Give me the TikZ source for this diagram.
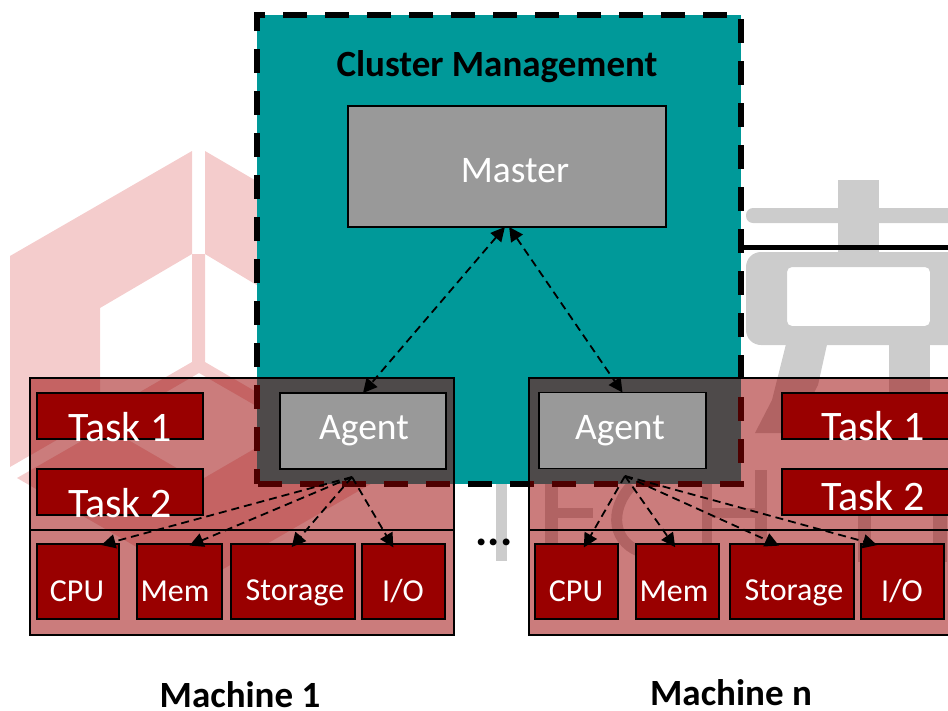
\documentclass[tikz,border=0pt]{standalone}
\usepackage{fontspec}
\setmainfont{Carlito}
\usetikzlibrary{arrows.meta}
\definecolor{clusterteal}{HTML}{009999}
\definecolor{boxred}{HTML}{990000}
\definecolor{boxgray}{HTML}{999999}
\definecolor{logopink}{HTML}{F4CCCC}
\definecolor{logogray}{HTML}{CCCCCC}
\begin{document}
\begin{tikzpicture}[x=1pt,y=-1pt,
  every node/.style={outer sep=0,inner sep=0},
  cluster/.style={draw,fill=clusterteal,line width=6pt,dash pattern=on 24pt off 18pt,dash phase=41pt},
  machine/.style={draw,line width=1.5pt,fill=boxred,fill opacity=.515},
  redbox/.style={draw,line width=1.5pt,fill=boxred},
  graybox/.style={draw,line width=1.5pt,fill=boxgray},
  bigtext/.style={text=white,font=\fontsize{42}{46}\selectfont},
  midtext/.style={text=white,font=\fontsize{37.5}{41}\selectfont},
  smalltext/.style={text=white,font=\fontsize{32}{36}\selectfont},
  boldtext/.style={font=\bfseries\fontsize{37}{41}\selectfont},
  link/.style={{Triangle[length=14pt,width=14pt]}-{Triangle[length=14pt,width=14pt]},line width=1.8pt,dash pattern=on 8pt off 5pt},
  uselink/.style={-{Triangle[length=14pt,width=14pt]},line width=1.8pt,dash pattern=on 8pt off 5pt,shorten >=-4pt}]
  \useasboundingbox (0,0) rectangle (948,710);
  \fill [logopink] (10,256) -- (192,151) -- (192,254) -- (100,308) -- (100,415) -- (10,467) -- cycle;
  \fill [logopink] (205,151) -- (265,186) -- (265,290) -- (205,254) -- cycle;
  \fill [logopink] (192,254) -- (205,254) -- (205,362) -- (265,397) -- (265,411) -- (199,373) -- (106,427) -- (100,415) -- (192,362) -- cycle;
  \fill [logopink] (17,478) -- (106,427) -- (199,481) -- (292,427) -- (381,478) -- (199,583) -- cycle;
  \fill [logogray,rounded corners=7pt] (746,208) rectangle (960,223);
  \fill [logogray] (838,180) rectangle (879,260);
  \fill [logogray,rounded corners=15pt,even odd rule] (746,252) rectangle (980,345) [rounded corners=5pt] (787,267) rectangle (930,326);
  \fill [logogray] (787,340) -- (828,340) -- (818,385) -- (800,420) -- (782,433) -- (755,433) -- (772,400) -- cycle;
  \fill [logogray] (889,340) rectangle (930,430);
  \fill [logogray] (496,470) rectangle (507,561);
  \fill [logogray] (545,470) rectangle (558,562);
  \fill [logogray] (558,508) rectangle (593,518);
  \draw [logogray,line width=11pt] (632,485) .. controls (608,510) and (612,545) .. (645,553);
  \fill [logogray] (702,470) rectangle (712,562);
  \fill [logogray] (755,470) rectangle (767,562);
  \fill [logogray] (712,508) rectangle (755,518);
  \fill [logogray] (858,500) rectangle (871,562);
  \fill [logogray] (933,500) rectangle (947,562);
  \node [cluster,minimum width=484pt,minimum height=469pt] (cluster) at (499,249.5) {};
  \node [boldtext] (clustertext) at (497,67) {Cluster Management};
  \node [graybox,minimum width=318pt,minimum height=121pt] (master) at (507,166.5) {};
  \node [midtext] (mastertext) at (515,171) {Master};
  \coordinate (barstart) at (741,247);
  \coordinate (barend) at (948,247);
  \draw [line width=5pt] (barstart) -- (barend);
  \node [machine,minimum width=424pt,minimum height=257pt] (machine1) at (242,506.5) {};
  \node [machine,minimum width=431pt,minimum height=257pt] (machine2) at (744.5,506.5) {};
  \coordinate (rule1a) at (30,530);
  \coordinate (rule1b) at (454,530);
  \coordinate (rule2a) at (529,530);
  \coordinate (rule2b) at (948,530);
  \draw [line width=1.5pt] (rule1a) -- (rule1b);
  \draw [line width=1.5pt] (rule2a) -- (rule2b);
  \node [graybox,minimum width=166pt,minimum height=76pt] (agent1) at (363,431) {};
  \node [graybox,minimum width=167pt,minimum height=76pt] (agent2) at (622.5,430.5) {};
  \node [midtext] (agenttext1) at (364,431) {Agent};
  \node [midtext] (agenttext2) at (620,431) {Agent};
  \node [redbox,minimum width=166pt,minimum height=46pt] (task1a) at (120,416) {};
  \node [redbox,minimum width=166pt,minimum height=46pt] (task2a) at (120,492) {};
  \node [redbox,minimum width=180pt,minimum height=46pt] (task1b) at (872,416) {};
  \node [redbox,minimum width=180pt,minimum height=46pt] (task2b) at (872,492) {};
  \node [bigtext] (tasktext1a) at (120,427) {Task 1};
  \node [bigtext] (tasktext2a) at (120,503) {Task 2};
  \node [bigtext] (tasktext1b) at (873,426) {Task 1};
  \node [bigtext] (tasktext2b) at (873,496) {Task 2};
  \node [redbox,minimum width=82pt,minimum height=75pt] (cpu1) at (78,581.5) {};
  \node [redbox,minimum width=85pt,minimum height=75pt] (mem1) at (179.5,581.5) {};
  \node [redbox,minimum width=124pt,minimum height=75pt] (storage1) at (293,581.5) {};
  \node [redbox,minimum width=83pt,minimum height=75pt] (io1) at (403.5,581.5) {};
  \node [redbox,minimum width=83pt,minimum height=75pt] (cpu2) at (576.5,581.5) {};
  \node [redbox,minimum width=83pt,minimum height=75pt] (mem2) at (677.5,581.5) {};
  \node [redbox,minimum width=124pt,minimum height=75pt] (storage2) at (792,581.5) {};
  \node [redbox,minimum width=83pt,minimum height=75pt] (io2) at (902.5,581.5) {};
  \node [smalltext] (cputext1) at (77,591) {CPU};
  \node [smalltext] (memtext1) at (175,591) {Mem};
  \node [smalltext] (storagetext1) at (295,593) {Storage};
  \node [smalltext] (iotext1) at (403,591) {I/O};
  \node [smalltext] (cputext2) at (576,591) {CPU};
  \node [smalltext] (memtext2) at (674,591) {Mem};
  \node [smalltext] (storagetext2) at (794,593) {Storage};
  \node [smalltext] (iotext2) at (902,591) {I/O};
  \node [boldtext,font=\bfseries\fontsize{46}{50}\selectfont] (dots) at (494,542) {...};
  \node [boldtext] (machinetext1) at (240,695) {Machine 1};
  \node [boldtext] (machinetext2) at (731,692.5) {Machine n};
  \coordinate (agentout1) at (352,477);
  \coordinate (agentout2) at (625,476);
  \draw [link] (master.268) -- (agent1.north);
  \draw [link] (master.272) -- (agent2.north);
  \draw [uselink] (agentout1) -- (cpu1.54);
  \draw [uselink] (agentout1) -- (mem1.70);
  \draw [uselink] (agentout1) -- (storage1.88);
  \draw [uselink] (agentout1) -- (io1.108);
  \draw [uselink] (agentout2) -- (cpu2.76);
  \draw [uselink] (agentout2) -- (mem2.97);
  \draw [uselink] (agentout2) -- (storage2.114);
  \draw [uselink] (agentout2) -- (io2.128);
\end{tikzpicture}
\end{document}
